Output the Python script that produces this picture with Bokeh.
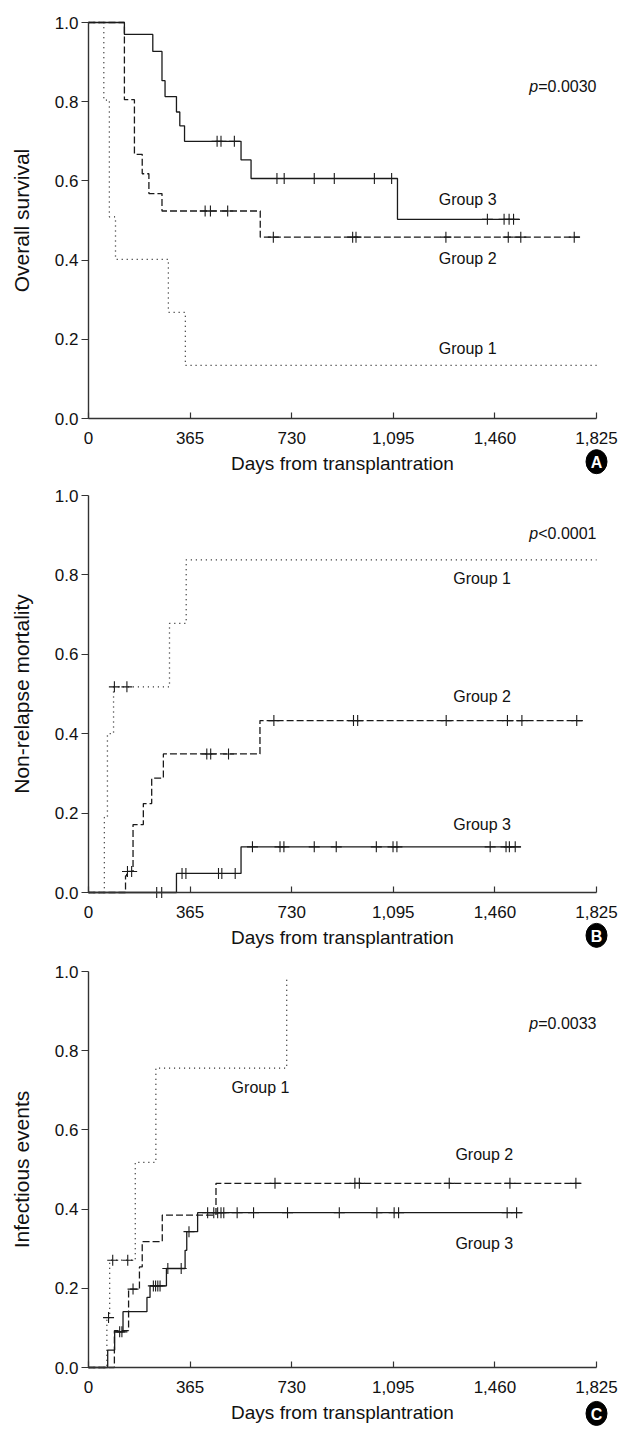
import numpy as np
from bokeh.plotting import figure
from bokeh.layouts import column
from bokeh.models import FixedTicker
from bokeh.core.properties import value
from bokeh.embed import file_html
from bokeh.resources import INLINE

# ---------------- axis ticks ----------------
x_ticks = [0, 365, 730, 1095, 1460, 1825]
x_tick_labels = ["0", "365", "730", "1,095", "1,460", "1,825"]
y_ticks = [0.0, 0.2, 0.4, 0.6, 0.8, 1.0]
y_tick_labels = ["0.0", "0.2", "0.4", "0.6", "0.8", "1.0"]

group_names = ["Group 1", "Group 2", "Group 3"]

# ---------------- Panel A: overall survival ----------------
os_g1_t = [0, 55, 75, 97, 287, 348, 1825]
os_g1_v = [1.0, 0.804, 0.509, 0.402, 0.268, 0.134, 0.134]
os_g1_c = []
os_g2_t = [0, 129, 165, 193, 217, 264, 617, 1766]
os_g2_v = [1.0, 0.805, 0.667, 0.618, 0.568, 0.524, 0.458, 0.458]
os_g2_c = [419, 438, 500, 664, 949, 961, 1284, 1508, 1553, 1745]
os_g3_t = [0, 129, 231, 264, 275, 316, 328, 345, 548, 584, 1110, 1550]
os_g3_v = [1.0, 0.970, 0.927, 0.853, 0.813, 0.774, 0.739, 0.700, 0.653, 0.606, 0.503, 0.503]
os_g3_c = [462, 476, 524, 677, 703, 811, 883, 1027, 1089, 1433, 1493, 1511, 1527]
os_p = ("p", "=0.0030")

# ---------------- Panel B: non-relapse mortality ----------------
nrm_g1_t = [0, 57, 68, 90, 291, 351, 1825]
nrm_g1_v = [0.0, 0.189, 0.400, 0.518, 0.678, 0.838, 0.838]
nrm_g1_c = [93, 138]
nrm_g2_t = [0, 133, 137, 160, 197, 227, 269, 616, 1776]
nrm_g2_v = [0.0, 0.042, 0.053, 0.171, 0.224, 0.288, 0.349, 0.433, 0.433]
nrm_g2_c = [140, 155, 425, 439, 503, 666, 952, 967, 1285, 1505, 1557, 1754]
nrm_g3_t = [0, 316, 548, 1554]
nrm_g3_v = [0.0, 0.048, 0.115, 0.115]
nrm_g3_c = [245, 263, 336, 350, 467, 479, 527, 589, 688, 702, 811, 890, 1034,
            1094, 1108, 1443, 1500, 1512, 1533]
nrm_p = ("p", "<0.0001")

# ---------------- Panel C: infectious events ----------------
inf_g1_t = [0, 66, 76, 168, 242, 712]
inf_g1_v = [0.0, 0.126, 0.271, 0.518, 0.756, 0.980]
inf_g1_c = [72, 87, 141]
inf_g2_t = [0, 93, 144, 183, 193, 265, 458, 1768]
inf_g2_v = [0.0, 0.093, 0.198, 0.254, 0.318, 0.385, 0.465, 0.465]
inf_g2_c = [160, 670, 957, 973, 1296, 1514, 1751]
inf_g3_t = [0, 69, 94, 124, 210, 221, 280, 347, 353, 392, 1559]
inf_g3_v = [0.0, 0.044, 0.090, 0.141, 0.177, 0.206, 0.250, 0.296, 0.343, 0.391, 0.391]
inf_g3_c = [112, 120, 233, 241, 249, 257, 285, 333, 361, 428, 450, 464, 476, 486,
            534, 593, 715, 901, 1036, 1098, 1114, 1504, 1538]
inf_p = ("p", "=0.0033")

# ---------------- styling / placement (not data) ----------------
FONT = "Liberation Sans"
INK = "#1a1a1a"
DASHES = ["1 4", "7 3", "solid"]
LEFT = 88          # plot-area left (px)
PX_PER_X = 508     # pixels for 0..1825 days
FIG_W = 618


def censor_y(t, v, cens):
    t = np.asarray(t, dtype=float)
    v = np.asarray(v, dtype=float)
    idx = np.searchsorted(t, np.asarray(cens, dtype=float), side="right") - 1
    return v[idx]


def make_panel(ylabel, curves, pval, p_y, label_pos, letter, letter_y,
               height, top, unit_px):
    xr = x_ticks[-1]
    x_start = -LEFT * xr / PX_PER_X
    x_end = (FIG_W - LEFT) * xr / PX_PER_X
    y_end = 1.0 + top / unit_px
    y_start = -(height - top - unit_px) / unit_px
    p = figure(width=FIG_W, height=height, x_range=(x_start, x_end),
               y_range=(y_start, y_end),
               output_backend="svg", toolbar_location=None,
               min_border=0, min_border_left=0, min_border_right=0,
               min_border_top=0, min_border_bottom=0)
    p.outline_line_color = None
    p.xgrid.visible = False
    p.ygrid.visible = False
    p.background_fill_color = "white"
    p.border_fill_color = "white"

    xa = p.xaxis[0]
    xa.fixed_location = 0
    xa.bounds = (x_ticks[0], x_ticks[-1])
    xa.ticker = FixedTicker(ticks=x_ticks)
    xa.major_label_overrides = {t: l for t, l in zip(x_ticks, x_tick_labels)}
    xa.major_tick_in = 6
    xa.major_tick_out = 0
    xa.minor_tick_in = 0
    xa.minor_tick_out = 0
    xa.major_label_standoff = 13
    xa.axis_label = "Days from transplantration"
    xa.axis_label_standoff = 6

    ya = p.yaxis[0]
    ya.fixed_location = 0
    ya.bounds = (y_ticks[0], y_ticks[-1])
    ya.ticker = FixedTicker(ticks=y_ticks)
    ya.major_label_overrides = {t: l for t, l in zip(y_ticks, y_tick_labels)}
    ya.major_tick_in = 0
    ya.major_tick_out = 7
    ya.minor_tick_in = 0
    ya.minor_tick_out = 0
    ya.major_label_standoff = 3
    ya.axis_label = ylabel
    ya.axis_label_standoff = 19

    for ax in (xa, ya):
        ax.axis_line_color = "#333333"
        ax.axis_line_width = 1.4
        ax.major_tick_line_color = "#333333"
        ax.major_tick_line_width = 1.2
        ax.major_label_text_font = FONT
        ax.major_label_text_font_size = "17px"
        ax.major_label_text_color = "#111111"
        ax.axis_label_text_font = FONT
        ax.axis_label_text_font_style = "normal"
        ax.axis_label_text_color = "#111111"
    xa.axis_label_text_font_size = "19px"
    ya.axis_label_text_font_size = "21px"

    for (t, v, c), dash in zip(curves, DASHES):
        p.step(x=t, y=v, mode="after", line_color=INK, line_width=1.3,
               line_dash=dash)
        if len(c):
            p.scatter(x=c, y=censor_y(t, v, c), marker="cross", size=11,
                      line_color=INK, line_width=1.1)

    # group labels
    gx = [pos[0] for pos in label_pos]
    gy = [pos[1] for pos in label_pos]
    p.text(x=gx, y=gy, text=group_names, text_align="center",
           text_baseline="middle", text_font=value(FONT),
           text_font_size="16px", text_color="#111111")

    # p-value (italic p + rest)
    p.text(x=[xr], y=[p_y], text=[pval[1]], text_align="right",
           text_baseline="middle", text_font=value(FONT),
           text_font_size="16px", text_color="#111111")
    p.text(x=[xr], y=[p_y], text=[pval[0]], text_align="right",
           text_baseline="middle", text_font=value(FONT),
           text_font_size="16px", text_font_style="italic",
           text_color="#111111", x_offset=-58.3)

    # circled panel letter
    p.ellipse(x=[xr], y=[letter_y], width=21, height=24,
              width_units="screen", height_units="screen",
              fill_color="black", line_color="black")
    p.text(x=[xr], y=[letter_y], text=[letter], text_align="center",
           text_baseline="middle", text_font=value(FONT),
           text_font_size="16px", text_font_style="bold",
           text_color="white", y_offset=1)
    return p


pA = make_panel("Overall survival",
                [(os_g1_t, os_g1_v, os_g1_c), (os_g2_t, os_g2_v, os_g2_c),
                 (os_g3_t, os_g3_v, os_g3_c)],
                os_p, 0.839,
                [(1362, 0.178), (1362, 0.403), (1362, 0.554)],
                "A", -0.109, 481, 22, 396)
pB = make_panel("Non-relapse mortality",
                [(nrm_g1_t, nrm_g1_v, nrm_g1_c), (nrm_g2_t, nrm_g2_v, nrm_g2_c),
                 (nrm_g3_t, nrm_g3_v, nrm_g3_c)],
                nrm_p, 0.904,
                [(1414, 0.792), (1414, 0.494), (1414, 0.172)],
                "B", -0.108, 475, 14, 397)
pC = make_panel("Infectious events",
                [(inf_g1_t, inf_g1_v, inf_g1_c), (inf_g2_t, inf_g2_v, inf_g2_c),
                 (inf_g3_t, inf_g3_v, inf_g3_c)],
                inf_p, 0.868,
                [(618, 0.707), (1422, 0.539), (1422, 0.312)],
                "C", -0.116, 474, 15, 396)

layout = column(pA, pB, pC, spacing=0)
open("out.html", "w").write(file_html(layout, INLINE))
